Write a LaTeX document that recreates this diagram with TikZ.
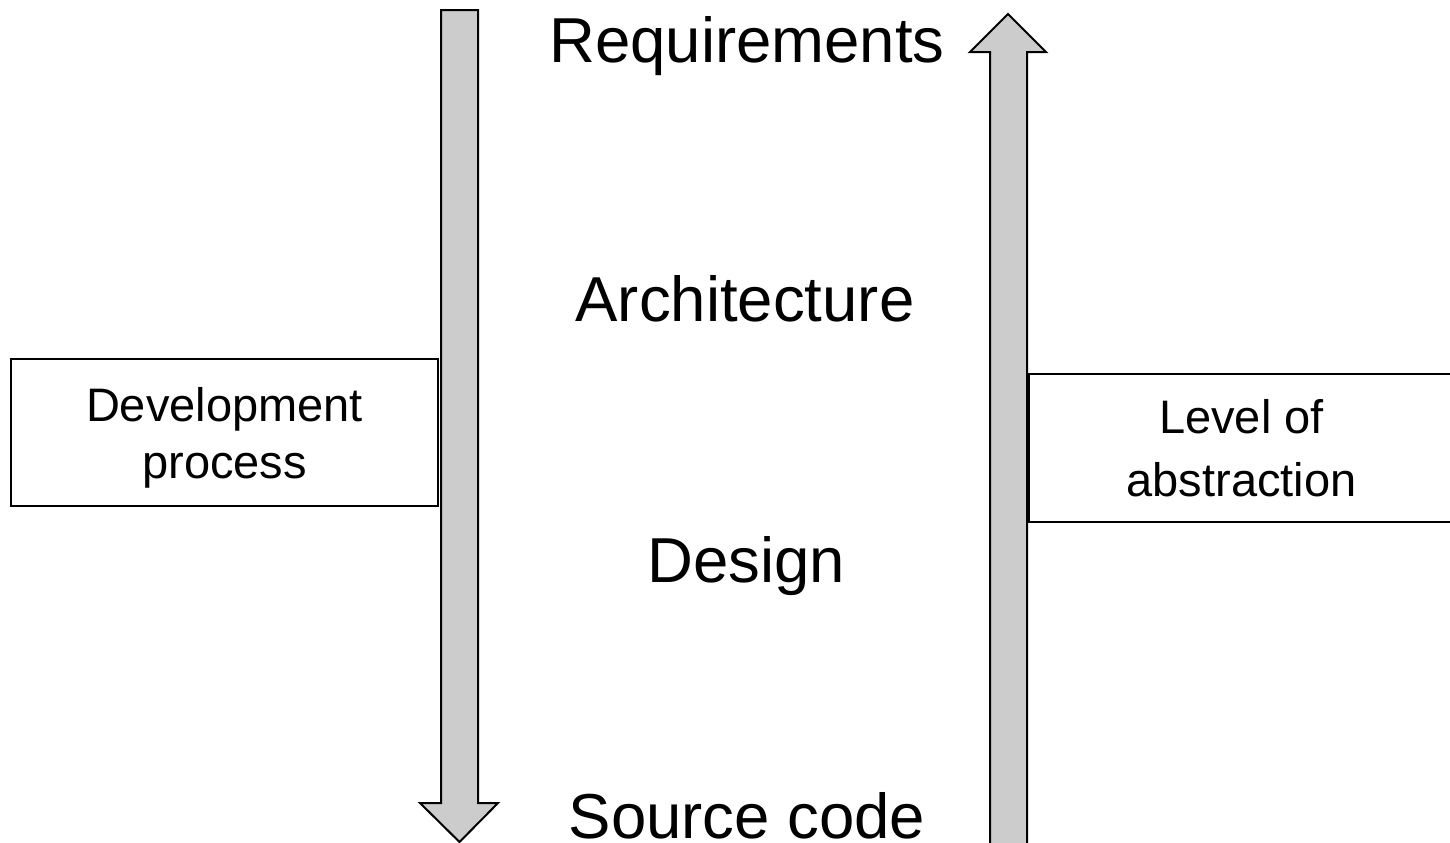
\documentclass[tikz,border=0pt]{standalone}
\usepackage{fontspec}
\setmainfont{Liberation Sans}
\definecolor{arrowgray}{RGB}{204,204,204}
\tikzset{
  bigarrow/.style={draw=black, fill=arrowgray, line width=1pt, line join=miter},
  box/.style={draw=black, line width=0.8pt, inner sep=0pt, align=center, text depth=0pt},
  level/.style={font=\fontsize{31.75}{38}\selectfont, anchor=base, inner sep=0pt}
}
\begin{document}
\begin{tikzpicture}[x=0.5pt,y=-0.5pt]
\useasboundingbox (0,0) rectangle (1450,842);
\clip (0,0) rectangle (1450,842);
% left arrow (downwards)
\draw[bigarrow] (441,10) -- (478,10) -- (478,803) -- (498,803) -- (459.5,842) -- (420,803) -- (441,803) -- cycle;
% right arrow (upwards)
\draw[bigarrow] (990,850) -- (990,52) -- (970,52) -- (1008,14) -- (1046,52) -- (1027,52) -- (1027,850);
% boxes
\node[box, minimum width=427*0.5pt, minimum height=147*0.5pt, font=\fontsize{23.5}{28.5}\selectfont] (dp) at (224.5,432.5) {Development\\process};
\node[box, minimum width=425*0.5pt, minimum height=148*0.5pt, font=\fontsize{23.5}{31.5}\selectfont] (la) at (1241.5,448) {Level of\\abstraction};
% level labels
\node[level] (req) at (747,62) {Requirements};
\node[level] (arch) at (745,321) {Architecture};
\node[level] (des) at (746,582) {Design};
\node[level] (src) at (747,838) {Source code};
\end{tikzpicture}
\end{document}
